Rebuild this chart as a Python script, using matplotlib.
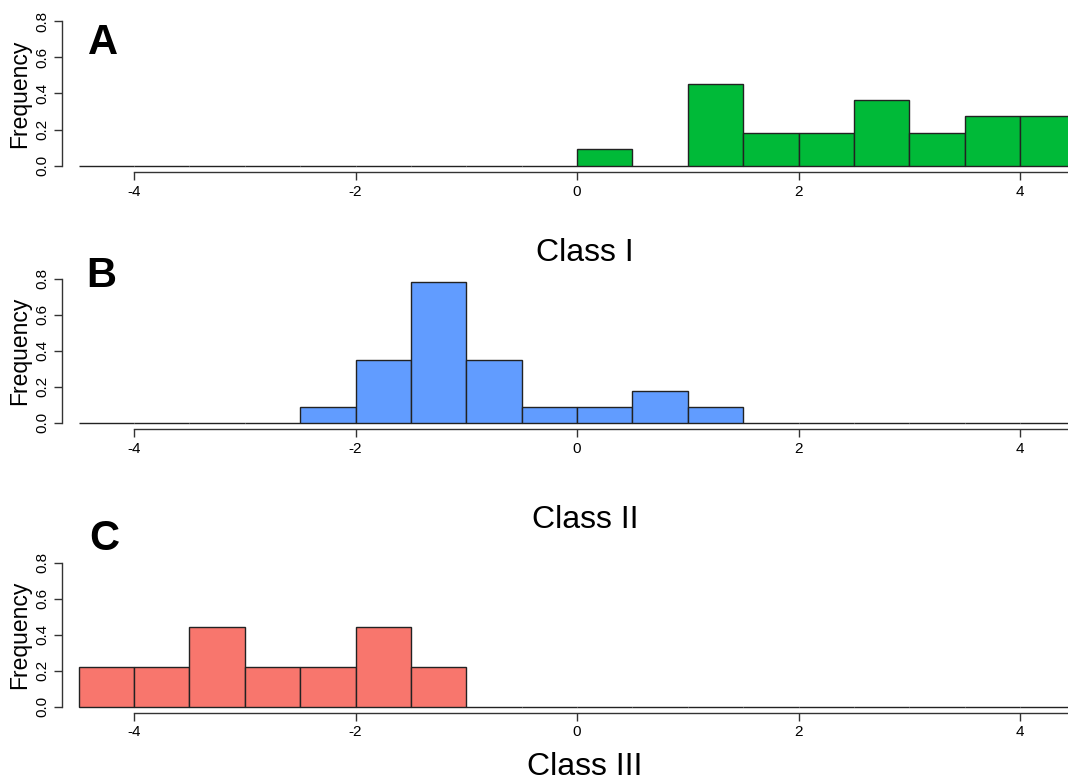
import matplotlib.pyplot as plt
import numpy as np

plt.rcParams['font.family'] = ['Liberation Sans', 'DejaVu Sans']

# bin edges shared by the three histograms (width 0.5)
edges = np.arange(-4.5, 4.51, 0.5)

# counts per bin, left to right
counts_a = [0, 0, 0, 0, 0, 0, 0, 0, 0, 1, 0, 5, 2, 2, 4, 2, 3, 3]
counts_b = [0, 0, 0, 0, 1, 4, 9, 4, 1, 1, 2, 1, 0, 0, 0, 0, 0, 0]
counts_c = [1, 1, 2, 1, 1, 2, 1, 0, 0, 0, 0, 0, 0, 0, 0, 0, 0, 0]

panels = [
    ('A', counts_a, '#00BA38', 'Class I'),
    ('B', counts_b, '#619CFF', 'Class II'),
    ('C', counts_c, '#F8766D', 'Class III'),
]

W, H = 1068, 780
fig = plt.figure(figsize=(W / 100, H / 100), dpi=100)

# pixel boxes (top, bottom) of each plot region
boxes = [(15, 172), (272.5, 429), (556.5, 713)]
letter_pos = [(103, 43), (101, 276), (104, 539)]
label_y = [253, 520, 767]

left_px, right_px = 62, 1068
xmin = (left_px - 577) / 110.75
xmax = (right_px - 577) / 110.75

for (letter, counts, color, xlabel), (top, bot), (lx, ly), cy in zip(panels, boxes, letter_pos, label_y):
    ax = fig.add_axes([left_px / W, 1 - bot / H, (right_px - left_px) / W, (bot - top) / H])
    counts = np.array(counts)
    dens = counts / (counts.sum() * 0.5)
    ax.bar(edges[:-1], dens, width=0.5, align='edge', color=color,
           edgecolor='#222222', linewidth=1.0)
    ax.set_xlim(xmin, xmax)
    ax.set_ylim(-0.035, 0.835)
    for s in ['top', 'right']:
        ax.spines[s].set_visible(False)
    ax.spines['left'].set_bounds(0, 0.8)
    ax.spines['bottom'].set_bounds(-4, xmax)
    for s in ['left', 'bottom']:
        ax.spines[s].set_color('#333333')
        ax.spines[s].set_linewidth(1.0)
    ax.set_xticks([-4, -2, 0, 2, 4])
    ax.set_xticklabels(['-4', '-2', '0', '2', '4'])
    ax.set_yticks([0, 0.2, 0.4, 0.6, 0.8])
    ax.set_yticklabels(['0.0', '0.2', '0.4', '0.6', '0.8'], rotation=90, va='center')
    ax.tick_params(axis='both', length=6, width=1.0, color='#333333', labelsize=11, pad=3)
    ax.set_ylabel('Frequency', fontsize=16.5, labelpad=3)
    fig.text(lx / W, 1 - ly / H, letter, fontsize=30, fontweight='bold', ha='center', va='center')
    fig.text(585 / W, 1 - cy / H, xlabel, fontsize=23, ha='center', va='center')

fig.savefig('out.png', dpi=100)
